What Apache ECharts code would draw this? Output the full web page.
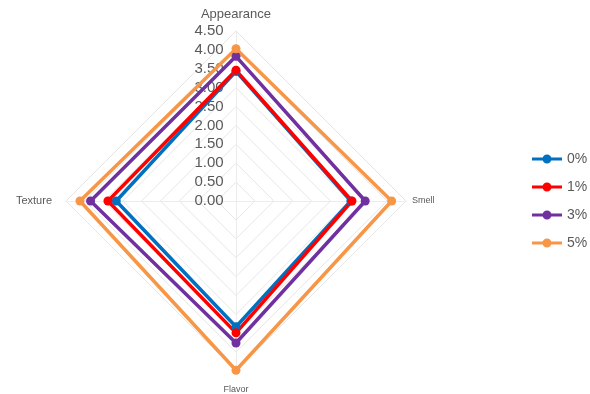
<!DOCTYPE html>
<html>
<head>
<meta charset="utf-8">
<script src="https://cdn.jsdelivr.net/npm/echarts@6/dist/echarts.min.js"></script>
<style>
  html, body { margin: 0; padding: 0; background: #fff; }
  #main { width: 590px; height: 394px; }
</style>
</head>
<body>
<div id="main"></div>
<script>
// indicators, counter-clockwise from the top (ECharts radar order)
const indicators = ["Appearance", "Texture", "Flavor", "Smell"];
const seriesNames = ["0%", "1%", "3%", "5%"];

const v0 = [3.43, 3.17, 3.33, 3.04];
const v1 = [3.46, 3.39, 3.49, 3.07];
const v3 = [3.83, 3.85, 3.76, 3.42];
const v5 = [4.03, 4.13, 4.48, 4.12];

const colors = ["#0070c0", "#ff0000", "#7030a0", "#f79646"];

// line with a dot, like the Excel legend key
const legendIcon = "path://M0,3.5H30V6.5H0Z M15,0.5A4.5,4.5,0,1,1,14.99,0.5Z";

const chart = echarts.init(document.getElementById("main"));

const option = {
  animation: false,
  color: colors,
  legend: {
    orient: "vertical",
    left: 527,
    top: 147,
    icon: legendIcon,
    itemWidth: 30,
    itemHeight: 10,
    itemGap: 14,
    textStyle: { color: "#595959", fontSize: 14, fontFamily: "Liberation Sans" },
    data: seriesNames
  },
  radar: {
    center: [236, 201],
    radius: 170,
    startAngle: 90,
    shape: "polygon",
    splitNumber: 9,
    nameGap: 6,
    indicator: indicators.map((name, i) => ({
      name: name,
      min: 0,
      max: 4.5,
      axisLabel: i === 0 ? {
        show: true,
        color: "#595959",
        fontSize: 15,
        fontFamily: "Liberation Sans",
        margin: 27,
        align: "center",
        formatter: (v) => v.toFixed(2)
      } : undefined
    })),
    axisName: {
      color: "#595959",
      fontFamily: "Liberation Sans",
      formatter: (name) => {
        if (name === "Appearance") return "{a|" + name + "}";
        if (name === "Smell") return "{s|" + name + "}";
        if (name === "Flavor") return "{f|" + name + "}";
        return "{t|" + name + "}";
      },
      rich: {
        a: { fontSize: 13, color: "#595959", padding: [0, 0, 4, 0] },
        s: { fontSize: 9, color: "#595959" },
        f: { fontSize: 9, color: "#595959", padding: [8, 0, 0, 0] },
        t: { fontSize: 11, color: "#595959", padding: [0, 8, 0, 0] }
      }
    },
    axisLabel: { show: false },
    axisTick: { show: false },
    axisLine: { lineStyle: { color: "#ececec", width: 1 } },
    splitLine: { lineStyle: { color: "#e6e6e6", width: 1 } },
    splitArea: { show: false }
  },
  series: [{
    type: "radar",
    symbol: "circle",
    symbolSize: 9,
    lineStyle: { width: 3.5 },
    data: [
      { name: seriesNames[0], value: v0 },
      { name: seriesNames[1], value: v1 },
      { name: seriesNames[2], value: v3 },
      { name: seriesNames[3], value: v5 }
    ]
  }]
};

chart.setOption(option);
</script>
</body>
</html>
